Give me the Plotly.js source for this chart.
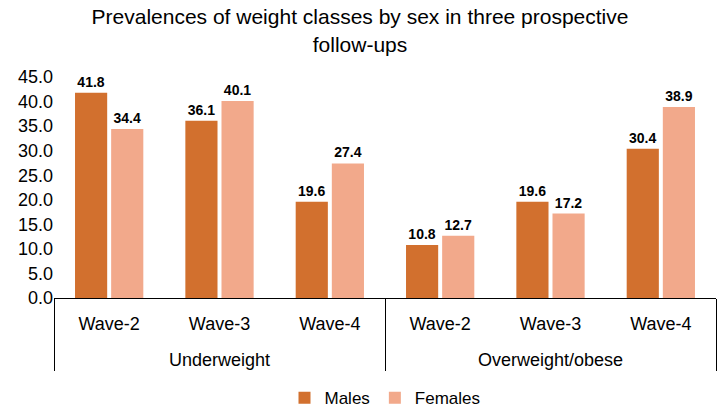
<!DOCTYPE html>
<html>
<head>
<meta charset="utf-8">
<script src="https://cdn.plot.ly/plotly-3.0.1.min.js"></script>
<style>html,body{margin:0;padding:0;background:#fff;}#chart{width:720px;height:408px;}</style>
</head>
<body>
<div id="chart"></div>
<script>
const groups = ["Underweight","Underweight","Underweight","Overweight/obese","Overweight/obese","Overweight/obese"];
const waves = ["Wave-2","Wave-3","Wave-4","Wave-2","Wave-3","Wave-4"];
const males = [41.8, 36.1, 19.6, 10.8, 19.6, 30.4];
const females = [34.4, 40.1, 27.4, 12.7, 17.2, 38.9];
const yTicks = [0,5,10,15,20,25,30,35,40,45];

const font = "Liberation Sans, Arial, sans-serif";
const waveLabels = waves.map(w => w + "<br>&nbsp;");
const traces = [
  {type:"bar", name:"Males", x:[groups, waveLabels], y:males, marker:{color:"#D2702E"},
   text: males.map(v=>v.toFixed(1)), textposition:"outside", cliponaxis:false,
   textfont:{family:font, size:14, color:"#000", weight:"bold"}},
  {type:"bar", name:"Females", x:[groups, waveLabels], y:females, marker:{color:"#F2A98B"},
   text: females.map(v=>v.toFixed(1)), textposition:"outside", cliponaxis:false,
   textfont:{family:font, size:14, color:"#000", weight:"bold"}}
];
const layout = {
  width:720, height:408,
  margin:{l:54, r:4, t:77, b:110},
  paper_bgcolor:"#fff", plot_bgcolor:"#fff",
  font:{family:font, color:"#000"},
  title:{text:"Prevalences of weight classes by sex in three prospective<br>follow-ups", x:0.5, xanchor:"center", yref:"container", y:0.94, yanchor:"middle", font:{size:21, family:font, color:"#000"}},
  barmode:"group", bargap:0.345, bargroupgap:0.11,
  xaxis:{type:"multicategory", showline:true, linecolor:"#000", linewidth:1, showdividers:true, dividercolor:"#000", dividerwidth:1,
    tickfont:{size:18, family:font, color:"#000"}, ticks:"", showgrid:false, ticklabelstandoff:9, automargin:false},
  yaxis:{range:[0,45], tickvals:yTicks, ticktext:yTicks.map(v=>v.toFixed(1)), showgrid:false, showline:false, zeroline:false,
    tickfont:{size:18, family:font, color:"#000"}, ticks:"", automargin:false},
  showlegend:true,
  legend:{orientation:"h", x:0.5, xanchor:"center", yref:"container", y:0.024, yanchor:"middle", font:{size:17, family:font}, itemwidth:30}
};
Plotly.newPlot("chart", traces, layout, {displayModeBar:false, staticPlot:true});
</script>
</body>
</html>
